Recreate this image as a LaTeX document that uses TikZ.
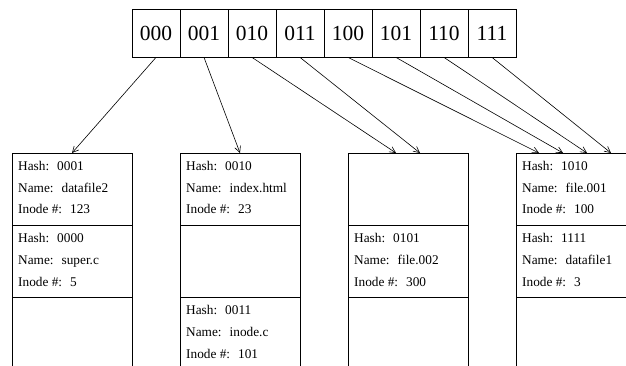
\documentclass[tikz,border=0pt]{standalone}
\usepackage{fontspec}
\setmainfont{Liberation Serif}
\usetikzlibrary{arrows.meta}
\newcommand\myentry[5]{%
  \node[txt] (#1h) at ([shift={(6,17.5)}]#2.north west) {Hash:\hspace{8pt}#3};
  \node[txt] (#1n) at ([shift={(6,39.5)}]#2.north west) {Name:\hspace{8pt}#4};
  \node[txt] (#1i) at ([shift={(6,61)}]#2.north west) {Inode \#:\hspace{8pt}#5};
}
\begin{document}
\begin{tikzpicture}[x=1pt,y=-1pt,
  cell/.style={draw,line width=0.8pt,minimum width=48pt,minimum height=48pt,inner sep=0pt,font=\fontsize{21.5}{24}\selectfont},
  slot/.style={draw,line width=0.8pt,minimum width=120pt,minimum height=72pt,inner sep=0pt,anchor=north west},
  txt/.style={anchor=base west,inner sep=0pt,font=\fontsize{13.3}{16}\selectfont},
  ptr/.style={-{Straight Barb[length=6pt,width=6pt]},line width=0.6pt}]
\useasboundingbox (0,0) rectangle (626,366);
\clip (0,0) rectangle (626,366);
% directory cells
\node[cell] (h0) at (156,33) {000};
\node[cell] (h1) at (204,33) {001};
\node[cell] (h2) at (252,33) {010};
\node[cell] (h3) at (300,33) {011};
\node[cell] (h4) at (348,33) {100};
\node[cell] (h5) at (396,33) {101};
\node[cell] (h6) at (444,33) {110};
\node[cell] (h7) at (492,33) {111};
% buckets
\foreach \b/\x in {ka/12,kb/180,kc/348,kd/516}{
  \node[slot] (\b1) at (\x,153) {};
  \node[slot] (\b2) at (\x,225) {};
  \node[slot] (\b3) at (\x,297) {};
}
% entries
\myentry{ea}{ka1}{0001}{datafile2}{123}
\myentry{eb}{ka2}{0000}{super.c}{5}
\myentry{ec}{kb1}{0010}{index.html}{23}
\myentry{ed}{kb3}{0011}{inode.c}{101}
\myentry{ee}{kc2}{0101}{file.002}{300}
\myentry{ef}{kd1}{1010}{file.001}{100}
\myentry{eg}{kd2}{1111}{datafile1}{3}
% arrow targets
\coordinate (t0) at (72,153);
\coordinate (t1) at (240,153);
\coordinate (t2) at (396,153);
\coordinate (t3) at (420,153);
\coordinate (t4) at (539,153);
\coordinate (t5) at (563,153);
\coordinate (t6) at (587,153);
\coordinate (t7) at (611,153);
\foreach \i in {0,...,7}{
  \draw[ptr] (h\i.south) -- (t\i);
}
\end{tikzpicture}
\end{document}
